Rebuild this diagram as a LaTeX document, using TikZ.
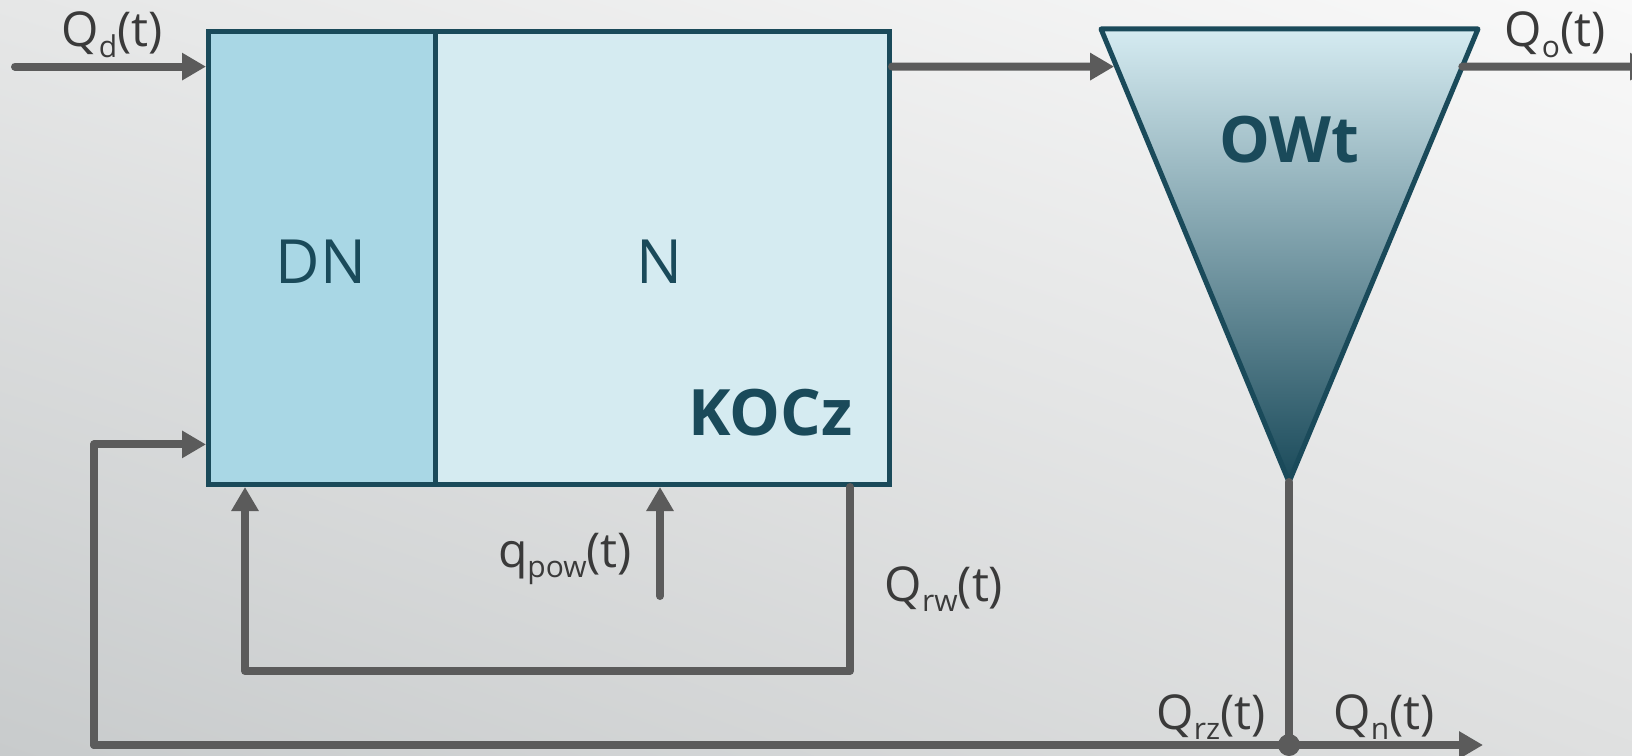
\documentclass[tikz,border=0pt]{standalone}
\usepackage{fontspec}
\setmainfont{Open Sans}
\usetikzlibrary{arrows.meta,calc,shadings}
\definecolor{bgUL}{HTML}{E6E7E7}
\definecolor{bgUR}{HTML}{F9F9F9}
\definecolor{bgLL}{HTML}{C8CBCC}
\definecolor{bgLR}{HTML}{DFE0E0}
\definecolor{dnfill}{HTML}{A9D7E5}
\definecolor{nfill}{HTML}{D5EBF1}
\definecolor{teal}{HTML}{1A4A5A}
\definecolor{midteal}{HTML}{9DB6BF}
\definecolor{arrgray}{HTML}{5B5B5B}
\definecolor{txtgray}{HTML}{3A3A3A}
\newcommand\lsub[1]{\raisebox{-0.22em}{\fontsize{30bp}{30bp}\selectfont #1}}
\begin{document}
\begin{tikzpicture}[x=1bp,y=-1bp,
  box/.style={draw=teal, line width=5bp, anchor=north west, minimum height=453bp, inner sep=0pt},
  flow/.style={draw=arrgray, line width=8bp, line cap=round, line join=round},
  arr/.style={flow, -{Triangle[length=24bp,width=26bp]}},
  lbl/.style={text=txtgray, font=\fontsize{48bp}{54bp}\selectfont, anchor=base, inner sep=0pt},
  big/.style={text=teal, font=\fontsize{61bp}{66bp}\selectfont, anchor=base, inner sep=0pt},
  bold/.style={text=teal, font=\fontsize{64bp}{70bp}\selectfont\bfseries, inner sep=0pt}]
\useasboundingbox (0,0) rectangle (1632,756);
\clip (0,0) rectangle (1632,756);
\shade[upper left=bgUL, upper right=bgUR, lower left=bgLL, lower right=bgLR] (0,0) rectangle (1632,756);

% main tank
\node[box, fill=dnfill, minimum width=227bp] (dn) at (206,29) {};
\node[box, fill=nfill, minimum width=454bp] (n) at (433,29) {};
\node[big] (dnt) at (321,283) {DN};
\node[big] (nt) at (659,283) {N};
\node[bold, anchor=base east] (kocz) at (853,435) {KOCz};

% settler
\coordinate (tl) at (1101,29);
\coordinate (tr) at (1478,29);
\coordinate (ap) at (1289,482);
\shade[top color=nfill, middle color=midteal, bottom color=teal] (tl) -- (tr) -- (ap) -- cycle;
\draw[teal, line width=5bp, line join=round] (tl) -- (tr) -- (ap) -- cycle;
\node[bold, anchor=base] (owt) at (1289,162) {OWt};

% coordinates
\coordinate (qds) at (15,66.6);
\coordinate (tin) at ($(tl)!0.083!(ap)+(-2.5,0)$);
\coordinate (tout) at ($(tr)!0.083!(ap)$);
\coordinate (qoe) at (1654,66.6);
\coordinate (lb) at (94,745);
\coordinate (lt) at (94,444.4);
\coordinate (qne) at (1483,745);
\coordinate (jn) at (ap |- lb);
\coordinate (rw1) at (850,671);
\coordinate (rw2) at (245,671);
\coordinate (qp) at (660,596);

% connectors
\draw[arr] (qds) -- (qds -| dn.west);
\draw[arr] (n.east |- qds) -- (tin);
\draw[arr] (tout) -- (qoe);
\draw[flow] (ap) -- (jn);
\draw[arr] (lb) -- (qne);
\draw[arr] (lb) -- (lt) -- (lt -| dn.west);
\draw[arr] (rw1 |- n.south) -- (rw1) -- (rw2) -- (rw2 |- dn.south);
\draw[arr] (qp) -- (qp |- n.south);
\fill[arrgray] (jn) circle (11);

% labels
\node[lbl] (qd) at (112,47) {Q\lsub{d}(t)};
\node[lbl] (qo) at (1555,47) {Q\lsub{o}(t)};
\node[lbl] (qpow) at (565,567) {q\lsub{pow}(t)};
\node[lbl] (qrw) at (944,601) {Q\lsub{rw}(t)};
\node[lbl] (qrz) at (1211,729) {Q\lsub{rz}(t)};
\node[lbl] (qn) at (1384,729) {Q\lsub{n}(t)};
\end{tikzpicture}
\end{document}
